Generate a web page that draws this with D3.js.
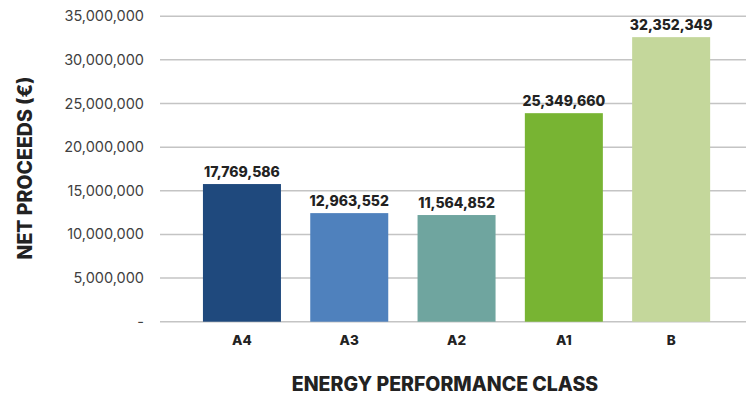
<!DOCTYPE html>
<html><head><meta charset="utf-8">
<script src="https://cdn.jsdelivr.net/npm/d3@7"></script>
<style>body{margin:0;background:#fff}svg{display:block}</style>
</head><body>
<script>
const categories = ["A4", "A3", "A2", "A1", "B"];
const barValues = [15770000, 12440000, 12220000, 23890000, 32600000];
const labelTexts = ["17,769,586", "12,963,552", "11,564,852", "25,349,660", "32,352,349"];
const colors = ["#1f497d", "#4f81bd", "#6fa59f", "#78b433", "#c4d79b"];
const yTicks = [0, 5000000, 10000000, 15000000, 20000000, 25000000, 30000000, 35000000];

const W = 746, H = 400;
const svg = d3.select("body").append("svg").attr("width", W).attr("height", H);
const font = "Inter, 'Liberation Sans', Arial, sans-serif";

const y = d3.scaleLinear().domain([0, 35000000]).range([321.7, 16.2]);
const x = d3.scaleBand().domain(categories).range([188.3, 724.8]).paddingInner(0.273).paddingOuter(0.1365);

// gridlines
svg.append("g").selectAll("line").data(yTicks).join("line")
  .attr("x1", 160).attr("x2", W)
  .attr("y1", d => y(d)).attr("y2", d => y(d))
  .attr("stroke", "#c4c4c4").attr("stroke-width", 1.5);

// y tick labels
const fmt = d3.format(",");
svg.append("g").selectAll("text").data(yTicks).join("text")
  .attr("x", 144).attr("y", d => y(d))
  .attr("dy", "0.35em").attr("text-anchor", "end")
  .attr("font-family", font).attr("font-size", 14.5).attr("fill", "#404040")
  .text(d => d === 0 ? "-" : fmt(d));

// bars
svg.append("g").selectAll("rect").data(categories).join("rect")
  .attr("x", d => x(d)).attr("width", x.bandwidth())
  .attr("y", (d, i) => y(barValues[i]))
  .attr("height", (d, i) => y(0) - y(barValues[i]))
  .attr("fill", (d, i) => colors[i]);

// value labels
svg.append("g").selectAll("text").data(categories).join("text")
  .attr("x", d => x(d) + x.bandwidth() / 2)
  .attr("y", (d, i) => y(barValues[i]) - 7)
  .attr("text-anchor", "middle")
  .attr("font-family", font).attr("font-weight", 800).attr("font-size", 14)
  .attr("fill", "#222")
  .text((d, i) => labelTexts[i]);

// x tick labels
svg.append("g").selectAll("text").data(categories).join("text")
  .attr("x", d => x(d) + x.bandwidth() / 2)
  .attr("y", 345)
  .attr("text-anchor", "middle")
  .attr("font-family", font).attr("font-weight", 800).attr("font-size", 13.5)
  .attr("fill", "#222")
  .text(d => d);

// axis titles
svg.append("text")
  .attr("x", 445).attr("y", 391)
  .attr("text-anchor", "middle")
  .attr("font-family", font).attr("font-weight", 800).attr("font-size", 19.5)
  .attr("fill", "#222")
  .text("ENERGY PERFORMANCE CLASS");

svg.append("text")
  .attr("transform", "translate(32,168) rotate(-90)")
  .attr("text-anchor", "middle")
  .attr("font-family", font).attr("font-weight", 800).attr("font-size", 19.5)
  .attr("fill", "#222")
  .text("NET PROCEEDS (€)");
</script>
</body></html>
